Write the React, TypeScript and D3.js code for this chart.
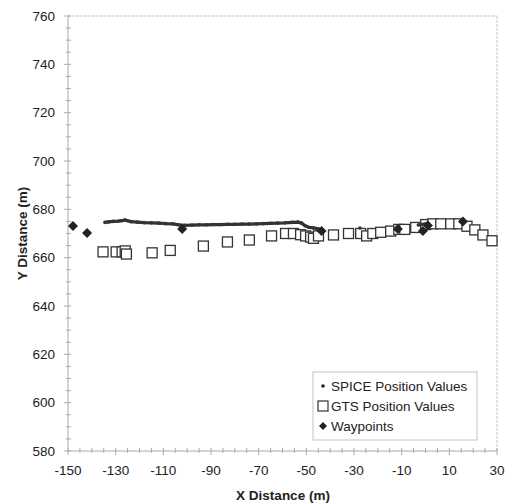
import React from "react";
import * as d3 from "d3";

// SPICE position values (x, y in metres)
const spiceX = [-134.5, -133, -131, -129, -127.5, -126, -125, -123.5, -121, -118, -115, -112, -109, -106, -103.5, -101, -98, -95, -92, -89, -86, -83, -80, -77, -74, -71, -68, -65, -62, -59, -56, -53.5, -52, -50.5, -49, -47, -45, -43.5, -27.5, -3, 1];
const spiceY = [674.6, 674.8, 675.0, 675.1, 675.3, 675.6, 675.3, 674.9, 674.7, 674.5, 674.4, 674.3, 674.1, 674.0, 673.6, 673.4, 673.5, 673.6, 673.6, 673.7, 673.7, 673.8, 673.8, 673.9, 673.9, 674.0, 674.1, 674.2, 674.3, 674.4, 674.6, 674.7, 674.3, 673.2, 672.6, 672.3, 671.9, 671.3, 672.3, 673.5, 674.2];

// GTS position values
const gtsX = [-135.3, -129.8, -127.3, -126, -125.5, -114.7, -107.1, -93.2, -83.1, -73.9, -64.6, -58.7, -55.4, -52.4, -50.3, -48.2, -47, -44.9, -38.6, -32.3, -27.2, -24.7, -22.1, -18.8, -14.6, -11.2, -8.7, -4.1, 0.1, 3.1, 6.4, 10.6, 14, 17.4, 20.7, 24.1, 27.9];
const gtsY = [662.4, 662.4, 662.4, 662.8, 661.5, 662, 663, 664.8, 666.5, 667.3, 669, 670, 670, 669.5, 669, 668.5, 668, 669, 669.4, 670, 670, 669, 670, 670.5, 671, 671.7, 671.7, 672.5, 673.7, 674, 674, 674, 674, 673, 671.5, 669.4, 667];

// Waypoints
const wpX = [-147.9, -142, -102.1, -43.6, -11.6, -1.1, 1, 15.7];
const wpY = [673.1, 670.2, 671.9, 671, 671.9, 671, 673.3, 675];

const xTicks = [-150, -130, -110, -90, -70, -50, -30, -10, 10, 30];
const yTicks = [580, 600, 620, 640, 660, 680, 700, 720, 740, 760];
const legendLabels = ["SPICE Position Values", "GTS Position Values", "Waypoints"];

const W = 510, H = 504;
const L = 68, R = 497, T = 16, B = 451;
const font = "'Liberation Sans', Arial, sans-serif";
const ink = "#222";

export default function App() {
  const x = d3.scaleLinear().domain([-150, 30]).range([L, R]);
  const y = d3.scaleLinear().domain([580, 760]).range([B, T]);
  const minorX = d3.range(-150, 30.01, 5);
  const minorY = d3.range(580, 760.01, 5);

  const spice = spiceX.map((v, i) => [v, spiceY[i]] as [number, number]);
  const line = d3
    .line<[number, number]>()
    .x((d) => x(d[0]))
    .y((d) => y(d[1]));
  const segs: [number, number][][] = [];
  spice.forEach((p, i) => {
    if (i === 0 || p[0] - spice[i - 1][0] > 5) segs.push([p]);
    else segs[segs.length - 1].push(p);
  });

  const sq = 10;
  const diamond = (cx: number, cy: number, r: number) =>
    `M${cx},${cy - r}L${cx + r},${cy}L${cx},${cy + r}L${cx - r},${cy}Z`;

  const lgX = 313, lgY = 372, lgW = 164, lgH = 68;

  return (
    <svg width={W} height={H} style={{ position: "absolute", left: 0, top: 0, background: "#fff" }} fontFamily={font}>
      {/* frame */}
      <line x1={L} x2={R} y1={T} y2={T} stroke="#c4c4c4" strokeWidth={1} strokeDasharray="3,1" />
      <line x1={R} x2={R} y1={T} y2={B} stroke="#c4c4c4" strokeWidth={1} strokeDasharray="3,1" />
      <line x1={L} x2={R} y1={B} y2={B} stroke="#aaa" strokeWidth={1} />
      <line x1={L} x2={L} y1={T} y2={B} stroke="#aaa" strokeWidth={1} />
      {minorY.map((v) => {
        const major = (v - 580) % 20 === 0;
        return <line key={"ym" + v} x1={major ? L - 4 : L - 2} x2={L + 3} y1={y(v)} y2={y(v)} stroke="#aaa" strokeWidth={1} />;
      })}
      {minorX.map((v) => {
        const major = (v + 150) % 20 === 0;
        return <line key={"xm" + v} x1={x(v)} x2={x(v)} y1={B - 3} y2={major ? B + 4 : B + 2} stroke="#aaa" strokeWidth={1} />;
      })}
      {yTicks.map((v) => (
        <text key={"yl" + v} x={55} y={y(v)} dy="0.35em" textAnchor="end" fontSize={13.5} fill={ink}>{v}</text>
      ))}
      {xTicks.map((v) => (
        <text key={"xl" + v} x={x(v)} y={475} textAnchor="middle" fontSize={13.5} fill={ink}>{v}</text>
      ))}
      <text x={283} y={500} textAnchor="middle" fontSize={13.5} fontWeight="bold" fill={ink}>X Distance (m)</text>
      <text transform={`translate(27,${(T + B) / 2}) rotate(-90)`} textAnchor="middle" fontSize={13.5} fontWeight="bold" fill={ink}>Y Distance (m)</text>

      {/* GTS squares */}
      {gtsX.map((v, i) => (
        <rect key={"g" + i} x={x(v) - sq / 2} y={y(gtsY[i]) - sq / 2} width={sq} height={sq} fill="#fff" stroke="#333" strokeWidth={1.3} />
      ))}
      {/* SPICE */}
      {segs.map((s, i) =>
        s.length > 1 ? <path key={"sl" + i} d={line(s) || ""} fill="none" stroke="#333" strokeWidth={3.2} strokeLinejoin="round" /> : null
      )}
      {spice.map((p, i) => (
        <circle key={"s" + i} cx={x(p[0])} cy={y(p[1])} r={1.8} fill="#333" />
      ))}
      {/* waypoints */}
      {wpX.map((v, i) => (
        <path key={"w" + i} d={diamond(x(v), y(wpY[i]), 5)} fill="#222" />
      ))}

      {/* legend */}
      <rect x={lgX} y={lgY} width={lgW} height={lgH} fill="#fff" stroke="#c4c4c4" strokeWidth={1} />
      {legendLabels.map((t, i) => (
        <text key={"lt" + i} x={lgX + 18} y={lgY + 14 + i * 20} dy="0.35em" fontSize={13.5} fill={ink}>{t}</text>
      ))}
      <circle cx={lgX + 10} cy={lgY + 14} r={1.8} fill="#222" />
      <rect x={lgX + 5} y={lgY + 34 - 5} width={10} height={10} fill="#fff" stroke="#333" strokeWidth={1.2} />
      <path d={diamond(lgX + 10, lgY + 54, 4)} fill="#222" />
    </svg>
  );
}
